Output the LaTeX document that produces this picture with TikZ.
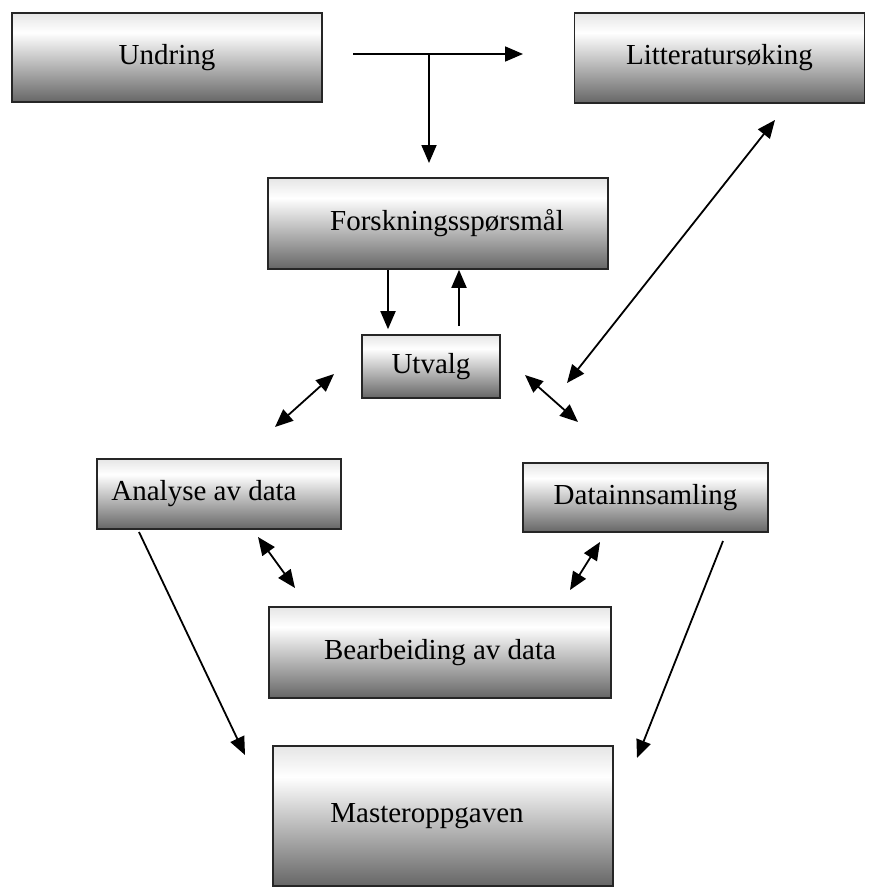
\documentclass[tikz,border=0pt]{standalone}
\usepackage{fontspec}
\setmainfont{Liberation Serif}
\usepackage{tikz}
\usetikzlibrary{arrows.meta}
\pgfdeclareverticalshading{boksskygge}{100bp}{color(0bp)=(black!60); color(25bp)=(black!60); color(64bp)=(white); color(75bp)=(black!10); color(100bp)=(black!10)}
\tikzstyle{boks}=[rectangle, draw=black!85, line width=1.6pt, shading=boksskygge, inner sep=0pt, font=\fontsize{29}{34}\selectfont]
\tikzstyle{pil}=[line width=1.8pt, -{Triangle[length=18pt,width=15pt]}]
\tikzstyle{dobbelpil}=[line width=1.8pt, {Triangle[length=18pt,width=15pt]}-{Triangle[length=18pt,width=15pt]}]

\begin{document}
\begin{tikzpicture}[x=1pt, y=-1pt]
			\useasboundingbox (0,0) rectangle (877,888);
			\node[boks, minimum width=310pt, minimum height=89pt] (undring) at (167,57.5) {\raisebox{-10pt}{Undring}};
			\node[boks, minimum width=290pt, minimum height=90pt] (litt) at (719.5,58) {Litteraturs\o king};
			\node[boks, minimum width=340pt, minimum height=91pt] (forsk) at (438,223.5) {\hspace*{18pt}Forskningssp\o rsm\aa l};
			\node[boks, minimum width=138pt, minimum height=63pt] (utvalg) at (431,366.5) {Utvalg};
			\node[boks, minimum width=244pt, minimum height=70pt] (analyse) at (219,494) {\hspace*{-30pt}Analyse av data};
			\node[boks, minimum width=245pt, minimum height=69pt] (data) at (645.5,497.5) {Datainnsamling};
			\node[boks, minimum width=342pt, minimum height=91pt] (bearb) at (440,652.5) {Bearbeiding av data};
			\node[boks, minimum width=340pt, minimum height=140pt] (master) at (443,816) {\hspace*{-32pt}Masteroppgaven};
			% frie ender
			\coordinate (start) at (353,54);
			\coordinate (kryss) at (429,54);
			\coordinate (tillitt) at (523,54);
			\coordinate (tilforsk) at (429,163);
			\coordinate (ua) at (334,374);
			\coordinate (au) at (275,427);
			\coordinate (ud) at (525,375);
			\coordinate (du) at (578,422);
			\coordinate (lu) at (567,383);
			\coordinate (ul) at (775,120);
			\coordinate (ab) at (258,537);
			\coordinate (ba) at (295,588);
			\coordinate (db) at (600,542);
			\coordinate (bd) at (570,590);
			\coordinate (am) at (139,532);
			\coordinate (ma) at (245,755);
			\coordinate (dm) at (723,541);
			\coordinate (md) at (637,758);
			\draw[pil] (start) -- (tillitt);
			\draw[pil] (kryss) -- (tilforsk);
			\draw[pil, shorten >=5pt] (forsk.south -| 388,0) -- (utvalg.north -| 388,0);
			\draw[pil, shorten <=8pt] (utvalg.north -| 459,0) -- (forsk.south -| 459,0);
			\draw[dobbelpil] (au) -- (ua);
			\draw[dobbelpil] (ud) -- (du);
			\draw[dobbelpil] (lu) -- (ul);
			\draw[dobbelpil] (ab) -- (ba);
			\draw[dobbelpil] (db) -- (bd);
			\draw[pil] (am) -- (ma);
			\draw[pil] (dm) -- (md);
		\end{tikzpicture}
\end{document}
